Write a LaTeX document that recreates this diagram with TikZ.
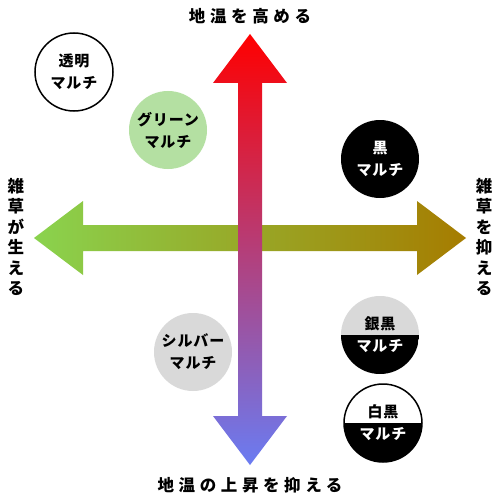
\documentclass[tikz,border=0pt]{standalone}
\usepackage{fontspec}
\setmainfont{Noto Sans CJK JP}
\newfontfamily\axisjp[LetterSpace=28]{Noto Sans CJK JP}
\newfontfamily\circjp[LetterSpace=6]{Noto Sans CJK JP}
\usepackage{tikz}
\usetikzlibrary{positioning}
\usepackage{xcolor}
\definecolor{weedgreen}{HTML}{8AD34E}
\definecolor{weedgold}{HTML}{A67C00}
\definecolor{warmred}{HTML}{FF0000}
\definecolor{coolblue}{HTML}{6A7CF2}
\definecolor{mulchgreen}{HTML}{B4E0A2}
\definecolor{mulchsilver}{HTML}{D9D9D9}

\begin{document}
\begin{tikzpicture}[x=1pt,y=-1pt,
  mulch/.style={circle,minimum size=78pt,inner sep=0pt,align=center,
    font=\circjp\fontsize{15}{22}\selectfont\bfseries},
  halfblack/.style={path picture={\fill[black] (path picture bounding box.west)
    rectangle (path picture bounding box.south east);}},
  axislabel/.style={font=\axisjp\fontsize{16.5}{20.5}\selectfont\bfseries,inner sep=0pt},
  sidelabel/.style={font=\fontsize{16.5}{20.5}\selectfont\bfseries,align=center,inner sep=0pt}]
\useasboundingbox (0,0) rectangle (500,500);
\fill[white] (0,0) rectangle (500,500);
% horizontal arrow: weeds
\shade[left color=weedgreen,right color=weedgold]
  (34,238) -- (83,201) -- (83,225) -- (417,225) -- (417,201) -- (466,238)
  -- (417,275) -- (417,251) -- (83,251) -- (83,275) -- cycle;
% vertical arrow: soil temperature
\shade[top color=warmred,bottom color=coolblue]
  (250,34) -- (287,83) -- (262,83) -- (262,416) -- (287,416) -- (250,465)
  -- (213,416) -- (238,416) -- (238,83) -- (213,83) -- cycle;
% axis labels
\node[axislabel] (lblup) at (250,16) {地温を高める};
\node[axislabel] (lbldown) at (250,485) {地温の上昇を抑える};
\node[sidelabel] (lblleft) at (16,237) {雑\\草\\が\\生\\え\\る};
\node[sidelabel] (lblright) at (484,237) {雑\\草\\を\\抑\\え\\る};
% mulch types
\node[mulch,draw=black,line width=1.5pt,fill=white] (toumei) at (74,72) {透明\\マルチ};
\node[mulch,fill=mulchgreen] (green) at (168,130) {グリーン\\マルチ};
\node[mulch,fill=black,text=white] (kuro) at (380,159) {黒\\マルチ};
\node[mulch,fill=mulchsilver] (silver) at (193,352) {シルバー\\マルチ};
\node[mulch,fill=mulchsilver,halfblack] (ginkuro) at (380,335)
  {銀黒\\\textcolor{white}{マルチ}};
\node[mulch,fill=white,halfblack,draw=black,line width=1.5pt] (shirokuro) at (383,423)
  {白黒\\\textcolor{white}{マルチ}};
\end{tikzpicture}
\end{document}
